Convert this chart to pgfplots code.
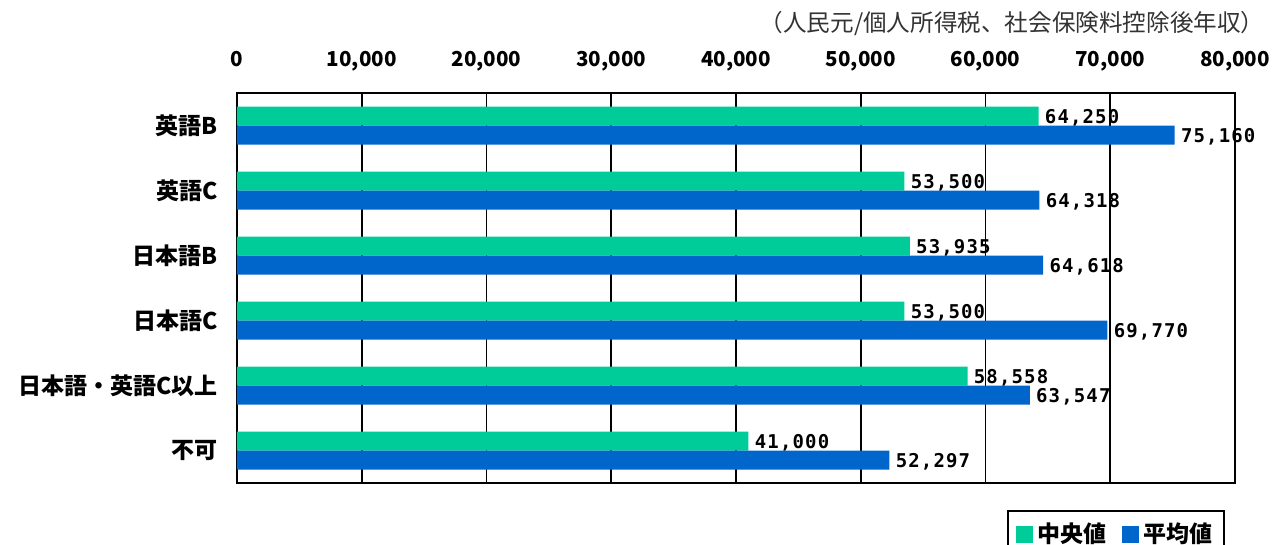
\documentclass[border=0pt]{standalone}
\usepackage{fontspec}
\usepackage{pgfplots}
\usepackage{pgfplotstable}
\pgfplotsset{compat=1.18}
\setmainfont{Noto Sans CJK JP}
\newfontfamily\jp{Noto Sans CJK JP}
\newfontfamily\valfont{DejaVu Sans Mono}[LetterSpace=6]
\definecolor{cgreen}{RGB}{0,204,153}
\definecolor{cblue}{RGB}{0,102,204}
\pgfplotstableread{
idx median mean
0 64250 75160
1 53500 64318
2 53935 64618
3 53500 69770
4 58558 63547
5 41000 52297
}\data
\begin{document}
\begin{tikzpicture}
\path[use as bounding box] (-118.5pt,-31pt) rectangle (523pt,241.5pt);
\begin{axis}[
  at={(0pt,0pt)}, anchor=south west,
  scale only axis, width=499pt, height=195pt,
  xbar, bar width=9.5pt,
  xmin=0, xmax=80000,
  ymin=-0.5, ymax=5.5, y dir=reverse,
  xtick={0,10000,...,80000},
  scaled x ticks=false,
  xticklabel pos=upper,
  /pgf/number format/assume math mode=true,
  x tick label style={/pgf/number format/1000 sep={,}, /pgf/number format/fixed, font=\jp\bfseries\fontsize{10.3}{12}\selectfont, anchor=base, inner sep=0pt, yshift=13.5pt},
  ytick={0,...,5},
  yticklabels={英語B,英語C,日本語B,日本語C,日本語・英語C以上,不可},
  y tick label style={font=\jp\bfseries\fontsize{11.5}{13}\selectfont, anchor=east, inner sep=0pt, xshift=-9.5pt},
  major tick length=0pt,
  xmajorgrids, grid style={black, line width=0.8pt},
  axis line style={black, line width=1.1pt},
  point meta=x,
  nodes near coords={\pgfmathprintnumber[fixed,precision=0,1000 sep={,},assume math mode=true]{\pgfplotspointmeta}},
  nodes near coords style={font=\valfont\bfseries\fontsize{9.5}{11}\selectfont, anchor=west, inner sep=3pt, yshift=-1pt},
  legend columns=2,
  legend style={at={(rel axis cs:0.990,-0.0692)}, anchor=north east, draw=black, line width=1pt, font=\jp\bfseries\fontsize{11.5}{13}\selectfont, inner sep=4pt, /tikz/every even column/.append style={column sep=6pt}},
  legend image code/.code={\fill[#1, draw=none] (0pt,-4.2pt) rectangle (8.5pt,4.3pt);},
  clip=false,
]
\addplot[fill=cgreen, draw=none, bar shift=4.75pt] table[x=median, y=idx] {\data};
\addplot[fill=cblue, draw=none, bar shift=-4.75pt] table[x=mean, y=idx] {\data};
\legend{中央値,平均値}
\node[anchor=east, inner sep=0pt, font=\jp\fontsize{11.8}{13}\selectfont, text=black!80] at (rel axis cs:1.030,1.179) {（人民元/個人所得税、社会保険料控除後年収）};
\end{axis}
\end{tikzpicture}
\end{document}
